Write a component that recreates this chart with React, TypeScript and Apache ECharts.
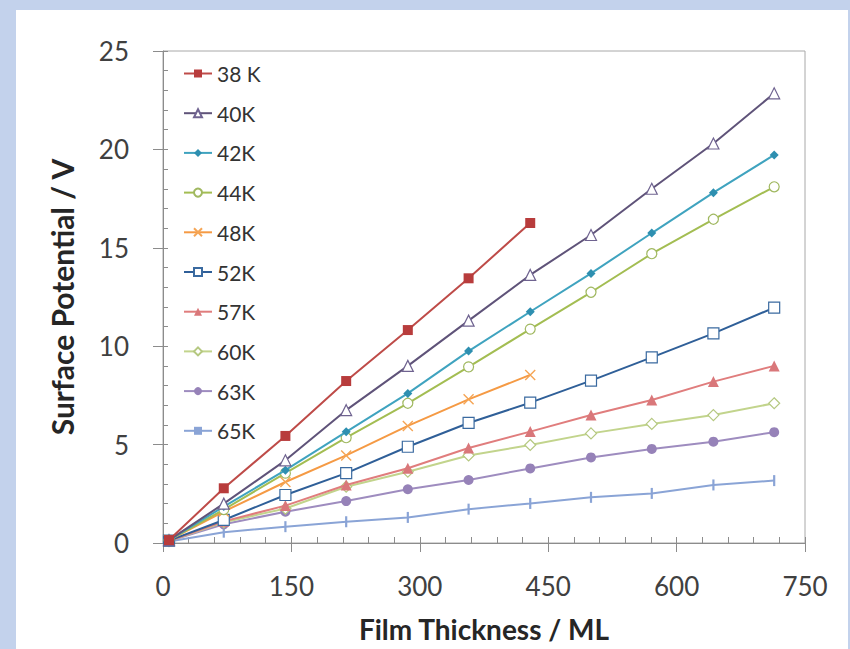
import React, { useEffect, useRef } from "react";
import * as echarts from "echarts";

const thickness = [7, 71, 143, 214, 286, 357, 429, 500, 571, 643, 714];

const seriesNames = ["38 K", "40K", "42K", "44K", "48K", "52K", "57K", "60K", "63K", "65K"];

const v38 = [0.15, 2.78, 5.44, 8.23, 10.82, 13.45, 16.26];
const v40 = [0.15, 2.0, 4.2, 6.75, 9.0, 11.3, 13.62, 15.65, 18.0, 20.3, 22.85];
const v42 = [0.15, 1.85, 3.7, 5.65, 7.6, 9.75, 11.75, 13.7, 15.75, 17.8, 19.72];
const v44 = [0.15, 1.7, 3.55, 5.35, 7.1, 8.95, 10.87, 12.74, 14.7, 16.45, 18.1];
const v48 = [0.15, 1.6, 3.1, 4.45, 5.95, 7.3, 8.54];
const v52 = [0.12, 1.17, 2.44, 3.55, 4.89, 6.1, 7.13, 8.25, 9.43, 10.65, 11.96];
const v57 = [0.1, 1.1, 1.9, 2.95, 3.8, 4.83, 5.66, 6.5, 7.27, 8.2, 9.0];
const v60 = [0.1, 1.05, 1.75, 2.86, 3.62, 4.45, 4.98, 5.57, 6.05, 6.5, 7.1];
const v63 = [0.1, 0.95, 1.59, 2.13, 2.73, 3.2, 3.79, 4.35, 4.78, 5.15, 5.63];
const v65 = [0.08, 0.55, 0.83, 1.08, 1.3, 1.72, 2.01, 2.32, 2.52, 2.95, 3.17];

const allValues = [v38, v40, v42, v44, v48, v52, v57, v60, v63, v65];

const xTicks = [0, 150, 300, 450, 600, 750];
const yTicks = [0, 5, 10, 15, 20, 25];

const FONT = "Lato, 'Open Sans', sans-serif";

type Style = {
  line: string;
  symbol: string;
  size: number | number[];
  fill: string;
  stroke: string;
  bw: number;
};

const BAR = "path://M0,0L2,0L2,10L0,10Z";

const styles: Style[] = [
  { line: "#be4b48", symbol: "rect", size: 10, fill: "#b83c3c", stroke: "#b83c3c", bw: 0 },
  { line: "#5f5379", symbol: "triangle", size: 11, fill: "#ffffff", stroke: "#6f6390", bw: 1.2 },
  { line: "#3fa3bf", symbol: "diamond", size: 9, fill: "#2e8fb0", stroke: "#2e8fb0", bw: 0 },
  { line: "#a3bd52", symbol: "circle", size: 10, fill: "#ffffff", stroke: "#a0b860", bw: 1.2 },
  { line: "#f59a44", symbol: "path://M0,0L10,10M10,0L0,10", size: 10, fill: "rgba(0,0,0,0)", stroke: "#f5a555", bw: 1.4 },
  { line: "#2f5f98", symbol: "rect", size: 11, fill: "#ffffff", stroke: "#3a6aa0", bw: 1.2 },
  { line: "#e07d7d", symbol: "triangle", size: 11, fill: "#d9777a", stroke: "#d9777a", bw: 0 },
  { line: "#c2d48c", symbol: "diamond", size: 11, fill: "#ffffff", stroke: "#b5c880", bw: 1.2 },
  { line: "#9e8cbf", symbol: "circle", size: 10, fill: "#9682b8", stroke: "#9682b8", bw: 0 },
  { line: "#8aa4d6", symbol: BAR, size: 11, fill: "#8aa4d6", stroke: "#8aa4d6", bw: 0 },
];

export default function App() {
  const ref = useRef<HTMLDivElement>(null);

  useEffect(() => {
    if (!ref.current) return;
    const chart = echarts.init(ref.current, undefined, { renderer: "svg" });

    const series = allValues.map((vals, i) => {
      const s = styles[i];
      return {
        name: seriesNames[i],
        type: "line",
        xAxisIndex: 0,
        yAxisIndex: 0,
        data: vals.map((v, j) => [thickness[j], v]),
        symbol: s.symbol,
        symbolSize: s.size,
        symbolKeepAspect: true,
        showAllSymbol: true,
        lineStyle: { color: s.line, width: 2 },
        itemStyle: { color: s.fill, borderColor: s.stroke, borderWidth: s.bw },
        emphasis: { disabled: true },
        z: 10 - i,
      };
    });

    chart.setOption({
      animation: false,
      backgroundColor: "transparent",
      textStyle: { fontFamily: FONT },
      grid: {
        left: 163,
        top: 51,
        right: 45,
        bottom: 106,
        containLabel: false,
        outerBoundsMode: "none",
        show: true,
        borderColor: "#a8a8a8",
        borderWidth: 1,
        backgroundColor: "transparent",
      },
      legend: {
        orient: "vertical",
        left: 178,
        top: 58,
        itemWidth: 28,
        itemHeight: 10,
        itemGap: 18.7,
        data: seriesNames,
        textStyle: { fontSize: 21, lineHeight: 20, color: "#333333", fontFamily: FONT },
        inactiveColor: "#ccc",
      },
      xAxis: [
        {
          type: "value",
          min: xTicks[0],
          max: xTicks[xTicks.length - 1],
          interval: xTicks[1] - xTicks[0],
          name: "Film Thickness / ML",
          nameLocation: "middle",
          nameGap: 72,
          nameTextStyle: { fontSize: 28, lineHeight: 28, fontWeight: "bold", color: "#262626", fontFamily: FONT },
          axisLine: { show: true, lineStyle: { color: "#8c8c8c", width: 1 } },
          axisTick: { show: true, inside: false, length: 9, lineStyle: { color: "#8c8c8c" } },
          axisLabel: { fontSize: 26, color: "#404040", margin: 30, fontFamily: FONT },
          splitLine: { show: false },
        },
        {
          type: "value",
          min: xTicks[0],
          max: xTicks[xTicks.length - 1],
          interval: 30,
          position: "bottom",
          axisLine: { show: false },
          axisTick: { show: true, inside: true, length: 6, lineStyle: { color: "#8c8c8c" } },
          axisLabel: { show: false },
          splitLine: { show: false },
        },
      ],
      yAxis: [
        {
          type: "value",
          min: yTicks[0],
          max: yTicks[yTicks.length - 1],
          interval: yTicks[1] - yTicks[0],
          name: "Surface Potential / V",
          nameLocation: "middle",
          nameGap: 86,
          nameTextStyle: { fontSize: 30, fontWeight: "bold", color: "#262626", fontFamily: FONT },
          axisLine: { show: true, lineStyle: { color: "#8c8c8c", width: 1 } },
          axisTick: { show: true, inside: false, length: 10, lineStyle: { color: "#8c8c8c" } },
          axisLabel: { fontSize: 26, color: "#404040", margin: 34, fontFamily: FONT },
          splitLine: { show: false },
        },
        {
          type: "value",
          min: yTicks[0],
          max: yTicks[yTicks.length - 1],
          interval: 1,
          position: "left",
          axisLine: { show: false },
          axisTick: { show: true, inside: true, length: 5, lineStyle: { color: "#8c8c8c" } },
          axisLabel: { show: false },
          splitLine: { show: false },
        },
      ],
      series,
    });

    return () => chart.dispose();
  }, []);

  return (
    <div style={{ position: "fixed", left: 0, top: 0, width: 850, height: 649, background: "#c3d2ec" }}>
      <div style={{ position: "absolute", left: 16, top: 10, width: 832, height: 639, background: "#ffffff" }} />
      <div ref={ref} style={{ position: "absolute", left: 0, top: 0, width: 850, height: 649 }} />
    </div>
  );
}
